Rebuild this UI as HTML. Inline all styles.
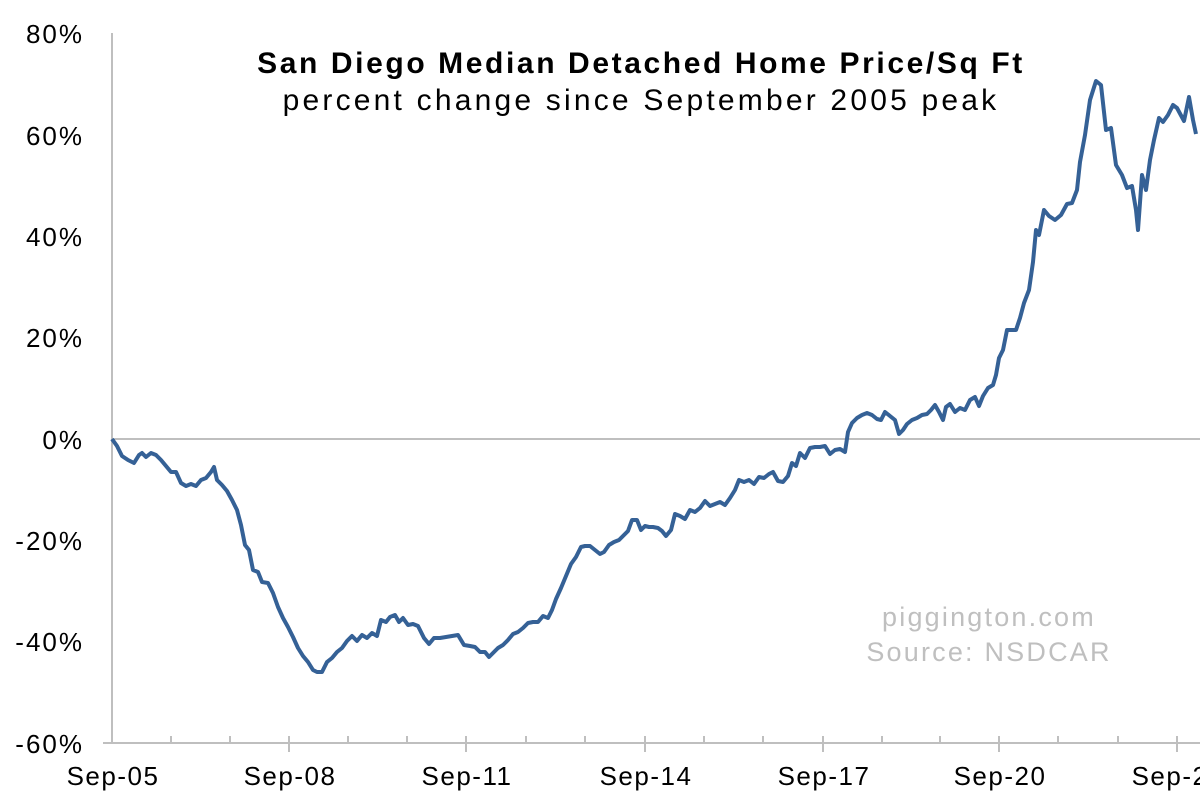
<!DOCTYPE html>
<html><head><style>
body{margin:0;background:#fff;}
text{font-family:"Liberation Sans",sans-serif;}
</style></head><body>
<svg width="1200" height="799" xmlns="http://www.w3.org/2000/svg">
<rect width="1200" height="799" fill="#fff"/>
<g fill="#000" font-size="26" letter-spacing="2" text-anchor="end">
<text x="84" y="43">80%</text>
<text x="84" y="145">60%</text>
<text x="84" y="246">40%</text>
<text x="84" y="347">20%</text>
<text x="84" y="449">0%</text>
<text x="84" y="550">-20%</text>
<text x="84" y="651">-40%</text>
<text x="84" y="753">-60%</text>
</g>
<line x1="112" y1="33" x2="112" y2="744" stroke="#bfbfbf" stroke-width="2"/>
<line x1="103" y1="743" x2="1200" y2="743" stroke="#bfbfbf" stroke-width="2"/>
<g stroke="#bfbfbf" stroke-width="2">
<line x1="171" y1="736" x2="171" y2="743"/><line x1="230" y1="736" x2="230" y2="743"/>
<line x1="289" y1="736" x2="289" y2="752"/><line x1="348" y1="736" x2="348" y2="743"/>
<line x1="407" y1="736" x2="407" y2="743"/><line x1="466" y1="736" x2="466" y2="752"/>
<line x1="526" y1="736" x2="526" y2="743"/><line x1="585" y1="736" x2="585" y2="743"/>
<line x1="645" y1="736" x2="645" y2="752"/><line x1="704" y1="736" x2="704" y2="743"/>
<line x1="763" y1="736" x2="763" y2="743"/><line x1="823" y1="736" x2="823" y2="752"/>
<line x1="882" y1="736" x2="882" y2="743"/><line x1="940" y1="736" x2="940" y2="743"/>
<line x1="999" y1="736" x2="999" y2="752"/><line x1="1058" y1="736" x2="1058" y2="743"/>
<line x1="1118" y1="736" x2="1118" y2="743"/><line x1="1177" y1="736" x2="1177" y2="752"/>
</g>
<line x1="112" y1="439" x2="1200" y2="439" stroke="#7f7f7f" stroke-width="1"/>
<g fill="#000" font-size="26" letter-spacing="1.5" text-anchor="middle">
<text x="113" y="785">Sep-05</text><text x="290" y="785">Sep-08</text>
<text x="467" y="785">Sep-11</text><text x="646" y="785">Sep-14</text>
<text x="824" y="785">Sep-17</text><text x="1000" y="785">Sep-20</text>
<text x="1178" y="785">Sep-23</text>
</g>
<text x="641" y="73" text-anchor="middle" font-size="30" letter-spacing="2.6" font-weight="bold">San Diego Median Detached Home Price/Sq Ft</text>
<text x="641" y="110" text-anchor="middle" font-size="30" letter-spacing="3.2">percent change since September 2005 peak</text>
<text x="989" y="626" text-anchor="middle" font-size="27" letter-spacing="2.2" fill="#bfbfbf">piggington.com</text>
<text x="989" y="661" text-anchor="middle" font-size="27" letter-spacing="2.2" fill="#bfbfbf">Source: NSDCAR</text>
<polyline fill="none" stroke="#356196" stroke-width="4" stroke-linejoin="round" points="112,439 117,446 122,456 128,460 134,463 139,455 142,453 146,457 151,453 156,455 161,460 166,466 171,472 176,472 181,483 186,486 191,484 196,486 201,480 206,478 211,472 214,467 217,480 222,485 227,491 232,500 237,510 241,525 245,545 249,550 253,570 258,572 262,582 268,583 273,593 278,607 283,618 288,627 293,637 298,648 303,656 308,662 313,670 317,672 322,672 327,662 332,658 337,652 342,648 347,641 352,636 357,641 362,635 367,638 372,633 377,636 381,620 386,622 390,617 395,615 399,622 403,618 408,625 413,624 418,626 424,638 429,644 434,638 440,638 446,637 452,636 458,635 464,645 470,646 475,647 480,652 485,652 489,657 494,652 498,648 503,645 508,640 513,634 518,632 523,628 528,623 533,622 538,622 543,616 548,618 552,610 556,599 561,588 566,576 571,564 576,557 581,547 585,546 590,546 595,550 600,554 604,552 609,545 614,542 619,540 624,535 628,531 632,520 637,520 641,530 645,526 649,527 653,527 658,528 662,531 666,536 671,530 675,514 680,516 685,519 690,510 695,512 700,508 705,501 710,506 715,504 720,502 725,505 730,498 735,490 739,480 744,482 749,480 754,484 759,477 764,478 769,474 773,472 778,481 783,482 788,476 792,463 796,466 800,453 805,458 810,448 815,447 820,447 825,446 830,454 835,450 840,449 845,452 848,432 852,423 857,418 862,415 867,413 872,415 877,419 881,420 885,412 890,416 895,420 899,434 903,430 907,424 912,420 917,418 922,415 927,414 931,410 935,405 939,412 943,420 946,407 950,404 955,412 960,408 965,410 970,400 975,397 979,406 983,396 988,388 993,385 996,375 999,358 1003,350 1007,330 1011,330 1016,330 1020,318 1024,303 1029,290 1033,262 1036,230 1039,235 1044,210 1049,216 1055,220 1061,215 1067,204 1072,203 1077,190 1080,162 1085,135 1090,100 1096,81 1101,85 1106,130 1111,128 1116,165 1122,175 1127,188 1132,186 1136,210 1138,230 1142,175 1146,190 1150,160 1154,140 1159,118 1163,122 1168,115 1173,105 1177,108 1184,121 1189,97 1193,120 1196,134"/>
</svg>
</body></html>
